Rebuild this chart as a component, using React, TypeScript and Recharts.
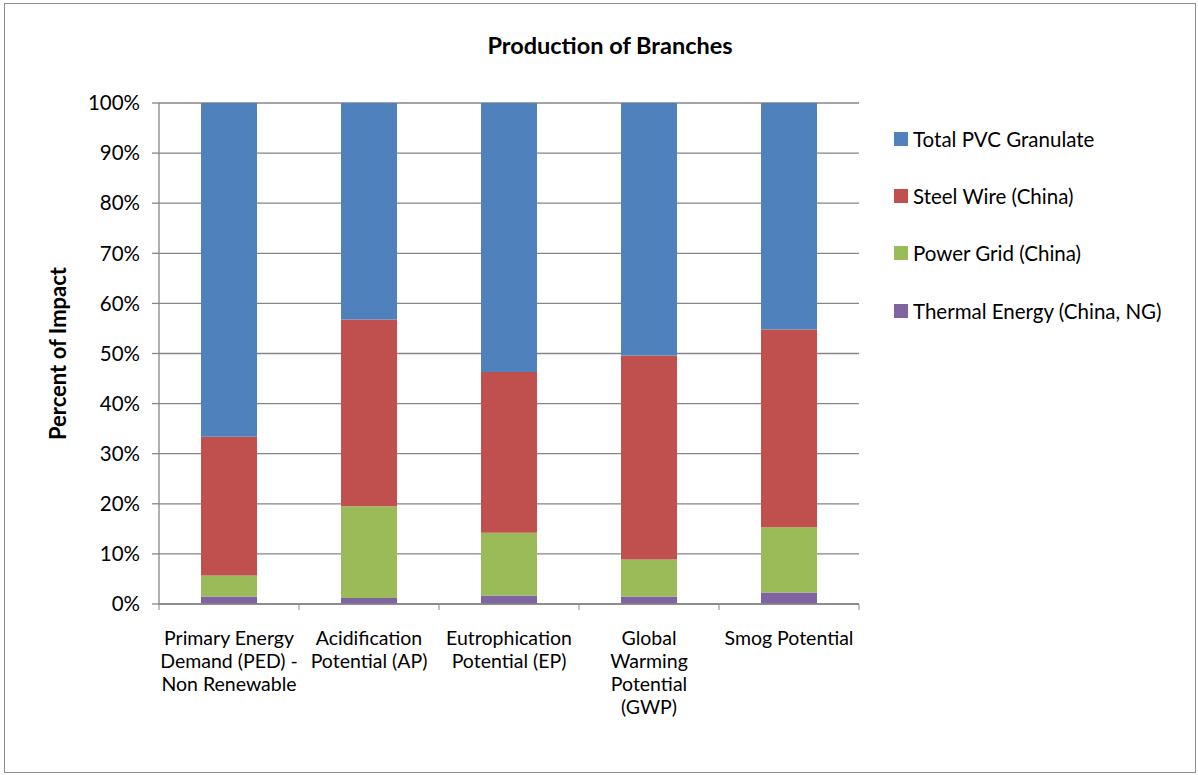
import { Bar, BarChart, CartesianGrid, XAxis, YAxis } from 'recharts'

const categories = [
    'Primary Energy\nDemand (PED) -\nNon Renewable',
    'Acidification\nPotential (AP)',
    'Eutrophication\nPotential (EP)',
    'Global\nWarming\nPotential\n(GWP)',
    'Smog Potential',
]
const thermalEnergy = [1.5, 1.2, 1.7, 1.5, 2.3]
const powerGrid = [4.2, 18.3, 12.5, 7.4, 13.0]
const steelWire = [27.7, 37.3, 32.1, 40.7, 39.5]
const totalPvc = [66.6, 43.2, 53.7, 50.4, 45.2]
const yTicks = [0, 10, 20, 30, 40, 50, 60, 70, 80, 90, 100]

const series = [
    { key: 'thermal', name: 'Thermal Energy (China, NG)', color: '#8064A2', values: thermalEnergy },
    { key: 'power', name: 'Power Grid (China)', color: '#9BBB59', values: powerGrid },
    { key: 'steel', name: 'Steel Wire (China)', color: '#C0504D', values: steelWire },
    { key: 'pvc', name: 'Total PVC Granulate', color: '#4F81BD', values: totalPvc },
]

const data = categories.map((name, i) => {
    const row: Record<string, string | number> = { name }
    series.forEach(s => (row[s.key] = s.values[i]))
    return row
})

const W = 1190
const H = 768
const FONT = 'Lato, "Open Sans", sans-serif'
const AXIS = '#868686'
const PLOT_W = 700
const BAND = PLOT_W / categories.length

const XTick = (props: any) => {
    const { x, y, payload, index } = props
    const lines = String(payload.value).split('\n')
    return (
        <g>
            <line x1={x - BAND / 2} x2={x - BAND / 2} y1={y - 8} y2={y - 2} stroke={AXIS} />
            {index === categories.length - 1 && (
                <line x1={x + BAND / 2} x2={x + BAND / 2} y1={y - 8} y2={y - 2} stroke={AXIS} />
            )}
            <text x={x} y={y + 33} textAnchor={'middle'} fontSize={19.5} fill={'#000'} fontFamily={FONT}>
                {lines.map((l, i) => (
                    <tspan key={i} x={x} dy={i === 0 ? 0 : 23}>
                        {l}
                    </tspan>
                ))}
            </text>
        </g>
    )
}

const App = () => {
    return (
        <div
            style={{
                position: 'absolute',
                left: 4,
                top: 3,
                width: W,
                height: H,
                border: '1px solid #8c8c8c',
                background: '#fff',
                fontFamily: FONT,
            }}
        >
            <div
                style={{
                    position: 'absolute',
                    top: 27,
                    left: 0,
                    width: 1210,
                    textAlign: 'center',
                    fontWeight: 'bold',
                    fontSize: 23.5,
                }}
            >
                Production of Branches
            </div>
            <BarChart
                width={W}
                height={H}
                data={data}
                margin={{ top: 99, right: 336, bottom: 28, left: 94 }}
                barCategoryGap={'30%'}
            >
                <CartesianGrid vertical={false} stroke={AXIS} strokeWidth={1.3} />
                <XAxis
                    dataKey={'name'}
                    interval={0}
                    height={140}
                    tickLine={false}
                    stroke={AXIS}
                    strokeWidth={1.3}
                    tick={<XTick />}
                />
                <YAxis
                    width={60}
                    domain={[0, 100]}
                    ticks={yTicks}
                    tickFormatter={v => `${v}%`}
                    stroke={AXIS}
                    strokeWidth={1.3}
                    tickSize={7}
                    tick={{ fill: '#000', fontSize: 20.5, fontFamily: FONT }}
                    tickMargin={12}
                    label={{
                        content: ({ viewBox }: any) => {
                            const cx = viewBox.x - 42
                            const cy = viewBox.y + viewBox.height / 2
                            return (
                                <text
                                    x={cx}
                                    y={cy}
                                    textAnchor={'middle'}
                                    dominantBaseline={'central'}
                                    transform={`rotate(-90, ${cx}, ${cy})`}
                                    fontSize={22}
                                    fontWeight={'bold'}
                                    fontFamily={FONT}
                                    fill={'#000'}
                                >
                                    Percent of Impact
                                </text>
                            )
                        },
                    }}
                />
                {series.map(s => (
                    <Bar key={s.key} dataKey={s.key} name={s.name} stackId={'a'} fill={s.color} isAnimationActive={false} />
                ))}
            </BarChart>
            <div style={{ position: 'absolute', left: 889, top: 106 }}>
                {[...series].reverse().map(s => (
                    <div key={s.key} style={{ display: 'flex', alignItems: 'center', height: 57.3 }}>
                        <span style={{ width: 14, height: 14, background: s.color, marginRight: 5, display: 'inline-block', flexShrink: 0 }} />
                        <span style={{ fontSize: 20.5, color: '#000', whiteSpace: 'nowrap' }}>{s.name}</span>
                    </div>
                ))}
            </div>
        </div>
    )
}

export default App
